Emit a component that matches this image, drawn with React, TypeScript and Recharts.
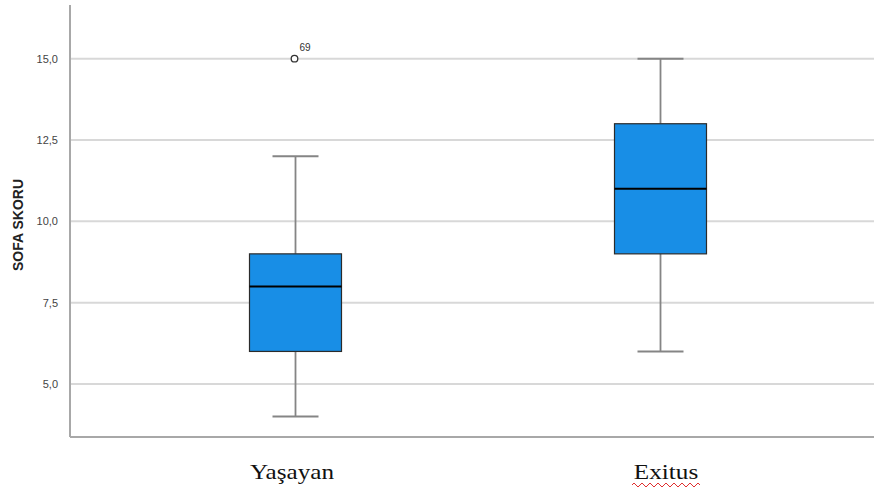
import React from 'react';
import { ComposedChart, Bar, XAxis, YAxis, CartesianGrid } from 'recharts';

const categories = ['Yaşayan', 'Exitus'];
const minValues = [4, 6];
const q1Values = [6, 9];
const medianValues = [8, 11];
const q3Values = [9, 13];
const maxValues = [12, 15];
const outlierValues = [[15], []];
const outlierLabels = [['69'], []];
const yTicks = [5, 7.5, 10, 12.5, 15];
const yDomain = [3.37, 16.65];

const data = categories.map((name, i) => ({
  name,
  range: [minValues[i], maxValues[i]],
  q1: q1Values[i],
  median: medianValues[i],
  q3: q3Values[i],
  outliers: outlierValues[i],
  outlierLabels: outlierLabels[i],
}));

const BoxShape = (props: any) => {
  const { x, y, width, height, payload } = props;
  const [lo, hi] = payload.range;
  const k = height / (hi - lo);
  const toY = (v: number) => y + (hi - v) * k;
  const cx = x + width / 2;
  const capHalf = 23;
  const whisker = '#858585';
  return (
    <g>
      <line x1={cx} x2={cx} y1={toY(hi)} y2={toY(payload.q3)} stroke={whisker} strokeWidth={1.8} />
      <line x1={cx} x2={cx} y1={toY(payload.q1)} y2={toY(lo)} stroke={whisker} strokeWidth={1.8} />
      <line x1={cx - capHalf} x2={cx + capHalf} y1={toY(hi)} y2={toY(hi)} stroke={whisker} strokeWidth={2} />
      <line x1={cx - capHalf} x2={cx + capHalf} y1={toY(lo)} y2={toY(lo)} stroke={whisker} strokeWidth={2} />
      <rect
        x={x}
        y={toY(payload.q3)}
        width={width}
        height={toY(payload.q1) - toY(payload.q3)}
        fill="#188ee6"
        stroke="#2b2b2b"
        strokeWidth={1.2}
      />
      <line x1={x} x2={x + width} y1={toY(payload.median)} y2={toY(payload.median)} stroke="#000" strokeWidth={2} />
      {payload.outliers.map((v: number, j: number) => (
        <g key={j}>
          <circle cx={cx - 1} cy={toY(v)} r={3.3} fill="#fff" stroke="#333" strokeWidth={1.3} />
          <text x={cx + 4} y={toY(v) - 8} fontSize={10} fill="#333" fontFamily="Liberation Sans, Arial, sans-serif">
            {payload.outlierLabels[j]}
          </text>
        </g>
      ))}
    </g>
  );
};

const labelShift = [-3, 6];

const XTick = (props: any) => {
  const { x, payload, index } = props;
  const cx = x + labelShift[index];
  const label = payload.value;
  const baseY = 479;
  let squiggle = null;
  if (label === 'Exitus') {
    const startX = cx - 34;
    const endX = cx + 34;
    let d = `M ${startX} 485`;
    let up = true;
    for (let px = startX; px < endX; px += 4) {
      d += ` L ${px + 2} ${up ? 483 : 487} L ${px + 4} 485`;
      up = !up;
    }
    squiggle = <path d={d} stroke="#e03030" strokeWidth={1} fill="none" />;
  }
  return (
    <g>
      <text
        x={cx}
        y={baseY}
        textAnchor="middle"
        fontSize={21}
        fill="#111"
        fontFamily="Liberation Serif, Times New Roman, serif"
        transform={`translate(${cx} 0) scale(1.2 1) translate(${-cx} 0)`}
      >
        {label}
      </text>
      {squiggle}
    </g>
  );
};

const YLabel = () => (
  <text
    x={18}
    y={225}
    transform="rotate(-90 18 225)"
    textAnchor="middle"
    dominantBaseline="central"
    fontSize={14}
    fontWeight="bold"
    fill="#222"
    fontFamily="Liberation Sans, Arial, sans-serif"
  >
    SOFA SKORU
  </text>
);

const gridRows = (args: any) => {
  const scale = args?.yAxis?.scale;
  if (scale && typeof scale === 'function') return yTicks.map((t) => scale(t));
  if (scale && typeof scale.map === 'function') return yTicks.map((t) => scale.map(t));
  return [];
};

export default function App() {
  return (
    <div style={{ position: 'absolute', left: 0, top: 0, width: 874, height: 492, background: '#fff' }}>
      <ComposedChart
        width={874}
        height={492}
        data={data}
        margin={{ top: 5, right: 0, bottom: 0, left: 0 }}
      >
        <CartesianGrid
          vertical={false}
          stroke="#d8d8d8"
          strokeWidth={2}
          horizontalCoordinatesGenerator={gridRows}
        />
        <XAxis
          dataKey="name"
          height={55}
          padding={{ left: 42.5, right: 31.5 }}
          axisLine={{ stroke: '#a8a8a8', strokeWidth: 2 }}
          tickLine={false}
          tick={<XTick />}
          interval={0}
        />
        <YAxis
          width={70}
          domain={yDomain}
          ticks={yTicks}
          type="number"
          allowDataOverflow
          axisLine={{ stroke: '#a8a8a8', strokeWidth: 2 }}
          tickLine={false}
          tickMargin={6}
          tick={{ fontSize: 11, fill: '#444', fontFamily: 'Liberation Sans, Arial, sans-serif' }}
          tickFormatter={(v: number) => v.toFixed(1).replace('.', ',')}
          label={<YLabel />}
        />
        <Bar dataKey="range" barSize={92} isAnimationActive={false} shape={<BoxShape />} />
      </ComposedChart>
    </div>
  );
}
